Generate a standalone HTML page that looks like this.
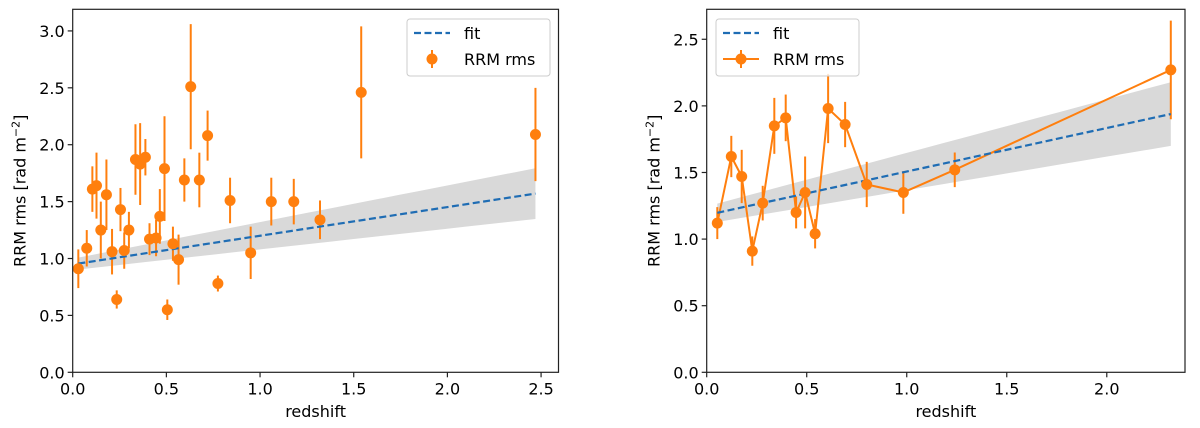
<!DOCTYPE html>
<html><head><meta charset="utf-8"><style>
html,body{margin:0;padding:0;background:#fff;width:1200px;height:428px;overflow:hidden}
svg{display:block;font-family:"DejaVu Sans","Liberation Sans",sans-serif}
</style></head><body>
<svg id="fig" width="1200" height="428"></svg>
<script>
// Left panel data
const leftZ = [0.03,0.075,0.105,0.127,0.15,0.18,0.21,0.235,0.255,0.275,0.30,0.335,0.36,0.388,0.41,0.445,0.465,0.49,0.505,0.535,0.565,0.596,0.63,0.676,0.72,0.775,0.84,0.95,1.06,1.18,1.32,1.54,2.47];
const leftRms = [0.91,1.09,1.61,1.64,1.25,1.56,1.06,0.64,1.43,1.07,1.25,1.87,1.83,1.89,1.17,1.18,1.37,1.79,0.55,1.13,0.99,1.69,2.51,1.69,2.08,0.78,1.51,1.05,1.50,1.50,1.34,2.46,2.09];
const leftErr = [0.17,0.16,0.2,0.29,0.25,0.31,0.2,0.08,0.19,0.16,0.16,0.31,0.36,0.16,0.14,0.16,0.24,0.46,0.09,0.15,0.22,0.19,0.55,0.24,0.22,0.07,0.2,0.23,0.21,0.2,0.17,0.58,0.41];
const leftFit = [0.948, 0.252]; // intercept, slope
const leftBand = [0.05, 0.07];  // half-width base, growth
const leftXTicks = ["0.0","0.5","1.0","1.5","2.0","2.5"];
const leftYTicks = ["0.0","0.5","1.0","1.5","2.0","2.5","3.0"];
// Right panel data
const rightZ = [0.053,0.123,0.175,0.228,0.28,0.338,0.395,0.447,0.492,0.542,0.607,0.692,0.80,0.983,1.24,2.32];
const rightRms = [1.12,1.62,1.47,0.91,1.27,1.85,1.91,1.20,1.35,1.04,1.98,1.86,1.41,1.35,1.52,2.27];
const rightErr = [0.12,0.155,0.2,0.11,0.13,0.21,0.175,0.12,0.27,0.11,0.26,0.17,0.17,0.16,0.13,0.37];
const rightFit = [1.18, 0.327];
const rightBand = [0.065, 0.075];
const rightXTicks = ["0.0","0.5","1.0","1.5","2.0"];
const rightYTicks = ["0.0","0.5","1.0","1.5","2.0","2.5"];

const NS="http://www.w3.org/2000/svg";
const svg=document.getElementById('fig');
function mk(tag,attrs,parent){const e=document.createElementNS(NS,tag);for(const k in attrs)e.setAttribute(k,attrs[k]);(parent||svg).appendChild(e);return e;}

function panel(p){
  const g=mk('g',{});
  
  
  const sx=v=>p.x0+(v-p.xmin)/(p.xmax-p.xmin)*(p.x1-p.x0);
  const sy=v=>p.y0-(v-p.ymin)/(p.ymax-p.ymin)*(p.y0-p.y1);
  const zs=[p.z[0],p.z[p.z.length-1]];
  const n=20;let up=[],dn=[];
  for(let i=0;i<=n;i++){const z=zs[0]+(zs[1]-zs[0])*i/n;const f=p.fit[0]+p.fit[1]*z;const w=p.band[0]+p.band[1]*z;up.push(sx(z)+','+sy(f+w));dn.unshift(sx(z)+','+sy(f-w));}
  const band=mk('polygon',{points:up.concat(dn).join(' '),fill:'#d9d9d9',stroke:'none'},g);
  
  
  if(p.connect){
    const pl=mk('polyline',{points:p.z.map((z,i)=>sx(z)+','+sy(p.r[i])).join(' '),fill:'none',stroke:'#ff7f0e','stroke-width':2},g);
    
    
  }
  p.z.forEach((z,i)=>{
    const eb=mk('line',{x1:sx(z),x2:sx(z),y1:sy(p.r[i]+p.e[i]),y2:sy(p.r[i]-p.e[i]),stroke:'#ff7f0e','stroke-width':2},g);
    
    
  });
  const fl=mk('line',{x1:sx(zs[0]),x2:sx(zs[1]),y1:sy(p.fit[0]+p.fit[1]*zs[0]),y2:sy(p.fit[0]+p.fit[1]*zs[1]),stroke:'#1f6db4','stroke-width':2.2,'stroke-dasharray':'7,3.5'},g);
  
  
  p.z.forEach((z,i)=>{
    const c=mk('circle',{cx:sx(z),cy:sy(p.r[i]),r:5.5,fill:'#ff7f0e'},g);
    
    
  });
  const fr=mk('rect',{x:p.x0,y:p.y1,width:p.x1-p.x0,height:p.y0-p.y1,fill:'none',stroke:'#222','stroke-width':1.2},g);
  
  
  p.xt.forEach(t=>{
    const x=sx(parseFloat(t));
    mk('line',{x1:x,x2:x,y1:p.y0,y2:p.y0+5,stroke:'#222','stroke-width':1.2},g);
    const tx=mk('text',{x:x,y:p.y0+22,'text-anchor':'middle','font-size':16,fill:'#000'},g);
    tx.textContent=t;
    
    
  });
  p.yt.forEach(t=>{
    const y=sy(parseFloat(t));
    mk('line',{x1:p.x0-5,x2:p.x0,y1:y,y2:y,stroke:'#222','stroke-width':1.2},g);
    const tx=mk('text',{x:p.x0-8,y:y+6,'text-anchor':'end','font-size':16,fill:'#000'},g);
    tx.textContent=t;
    
    
  });
  const xl=mk('text',{x:(p.x0+p.x1)/2,y:417,'text-anchor':'middle','font-size':16,fill:'#000'},g);
  xl.textContent='redshift';
  
  
  const yl=mk('text',{x:0,y:0,'text-anchor':'middle','font-size':16,fill:'#000',transform:`translate(${p.x0-47},${(p.y0+p.y1)/2}) rotate(-90)`},g);
  yl.innerHTML='RRM rms [rad m<tspan dy="-6" font-size="11">−2</tspan><tspan dy="6">]</tspan>';
  
  
  const L=mk('g',{},g);
  
  
  mk('rect',{x:p.lx,y:19,width:143,height:57,rx:3,fill:'#fff','fill-opacity':0.8,stroke:'#ccc'},L);
  mk('line',{x1:p.lx+7,x2:p.lx+43,y1:33,y2:33,stroke:'#1f6db4','stroke-width':2.2,'stroke-dasharray':'7,3.5'},L);
  const t1=mk('text',{x:p.lx+57,y:39,'font-size':16,fill:'#000'},L);t1.textContent='fit';
  
  
  if(p.connect)mk('line',{x1:p.lx+7,x2:p.lx+43,y1:59,y2:59,stroke:'#ff7f0e','stroke-width':2},L);
  mk('line',{x1:p.lx+25,x2:p.lx+25,y1:50,y2:68,stroke:'#ff7f0e','stroke-width':2},L);
  mk('circle',{cx:p.lx+25,cy:59,r:5.5,fill:'#ff7f0e'},L);
  const t2=mk('text',{x:p.lx+57,y:65,'font-size':16,fill:'#000'},L);t2.textContent='RRM rms';
  
  
}
panel({name:'left-chart',x0:72.7,x1:558.5,y0:372.3,y1:9.3,xmin:0,xmax:2.593,ymin:0,ymax:3.19,z:leftZ,r:leftRms,e:leftErr,fit:leftFit,band:leftBand,xt:leftXTicks,yt:leftYTicks,lx:407,connect:false});
panel({name:'right-chart',x0:706.7,x1:1185,y0:372.3,y1:9.3,xmin:0,xmax:2.391,ymin:0,ymax:2.725,z:rightZ,r:rightRms,e:rightErr,fit:rightFit,band:rightBand,xt:rightXTicks,yt:rightYTicks,lx:716,connect:true});
</script>
</body></html>
